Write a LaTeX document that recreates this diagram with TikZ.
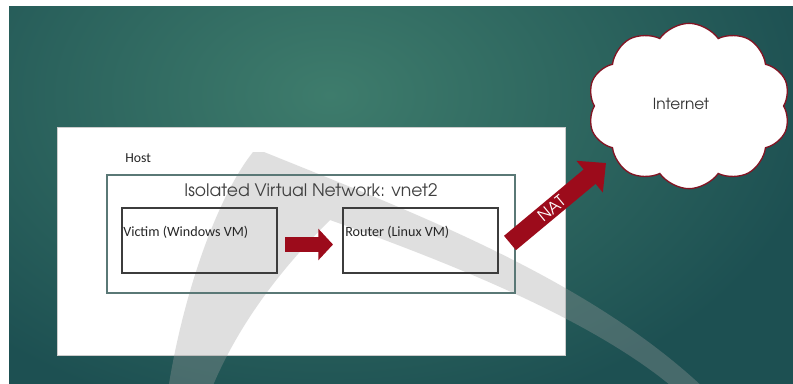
\documentclass[tikz,border=0pt]{standalone}
\usepackage{fontspec}
\setmainfont{Carlito}
\newfontfamily\gothic{TeX Gyre Adventor}
\usetikzlibrary{shapes.symbols,arrows.meta,calc}

\definecolor{bgin}{RGB}{62,124,108}
\definecolor{bgout}{RGB}{29,80,82}
\definecolor{arrowred}{RGB}{156,11,27}
\definecolor{cloudline}{RGB}{130,20,35}
\definecolor{netline}{RGB}{90,120,118}
\definecolor{vmline}{RGB}{60,60,60}

\tikzset{
  panel/.style={anchor=north west, inner sep=0pt, outer sep=0pt},
  vmbox/.style={panel, draw=vmline, line width=1pt},
  vmlabel/.style={anchor=west, inner sep=0pt, font=\fontsize{10.6}{12}\selectfont, text=black!85},
  fatarrow/.style={draw=arrowred, line width=11pt,
    -{Triangle[length=11pt,width=23pt,fill=arrowred]}},
  natarrow/.style={draw=arrowred, line width=14pt,
    -{Triangle[length=16pt,width=30pt,fill=arrowred]}},
}

\begin{document}
\begin{tikzpicture}[x=0.75pt,y=-0.75pt]
\useasboundingbox (0,0) rectangle (793,383);
\fill[white] (0,0) rectangle (793,383);

% teal slide background with a soft glow near the top
\begin{scope}
  \clip (9,6) rectangle (810,400);
  \fill[bgout] (9,6) rectangle (810,400);
  \shade[inner color=bgin, outer color=bgout]
    (330,95) ellipse [x radius=370pt, y radius=250pt];
\end{scope}

% host machine
\node[panel, fill=white, draw=black!20, line width=0.6pt,
      minimum width=381pt, minimum height=171pt] (host) at (57,127) {};

% translucent theme swoosh
\fill[gray!75, opacity=0.33]
  (168,390) .. controls (182,300) and (215,200) .. (253,152)
  -- (264,152) .. controls (420,215) and (590,280) .. (706,390)
  -- (676,390) .. controls (600,325) and (470,270) .. (330,220)
  .. controls (285,265) and (240,320) .. (211,390) -- cycle;

% isolated network and virtual machines
\node[panel, draw=netline, line width=0.9pt,
      minimum width=306pt, minimum height=88.5pt] (vnet) at (107,175) {};
\node[vmbox, minimum width=116.25pt, minimum height=48.75pt] (victim) at (122,208) {};
\node[vmbox, minimum width=116.25pt, minimum height=48.75pt] (router) at (343,208) {};

\node[anchor=west, inner sep=0pt, font=\fontsize{10.3}{12}\selectfont, text=black!85]
  (hostlbl) at (125,158) {Host};
\node[inner sep=0pt, font=\gothic\fontsize{12.9}{14}\selectfont, text=black!75]
  (vnetlbl) at (311,190) {Isolated Virtual Network: vnet2};
\node[vmlabel] (victimlbl) at (123,232) {Victim (Windows VM)};
\node[vmlabel] (routerlbl) at (345,232) {Router (Linux VM)};

% traffic from the victim to the router
\draw[fatarrow, shorten <=6pt, shorten >=7.5pt]
  ([yshift=-3pt]victim.east) -- ([yshift=-3pt]router.west);

% internet cloud
\node[cloud, cloud puffs=10, cloud puff arc=110, aspect=1.25,
      draw=cloudline, fill=white, line width=1pt,
      minimum width=152pt, minimum height=124pt] (cloud) at (689,106) {};
\node[inner sep=0pt, font=\gothic\fontsize{11.5}{13}\selectfont, text=black!80]
  (inet) at (681,104) {Internet};

% NAT from the router out to the internet
\coordinate (natstart) at (510,243);
\coordinate (natend) at (606,163);
\draw[natarrow] (natstart) -- (natend)
  node[pos=0.43, sloped, text=white, inner sep=0pt,
       font=\gothic\fontsize{12}{12}\selectfont] (natlbl) {NAT};
\end{tikzpicture}
\end{document}
